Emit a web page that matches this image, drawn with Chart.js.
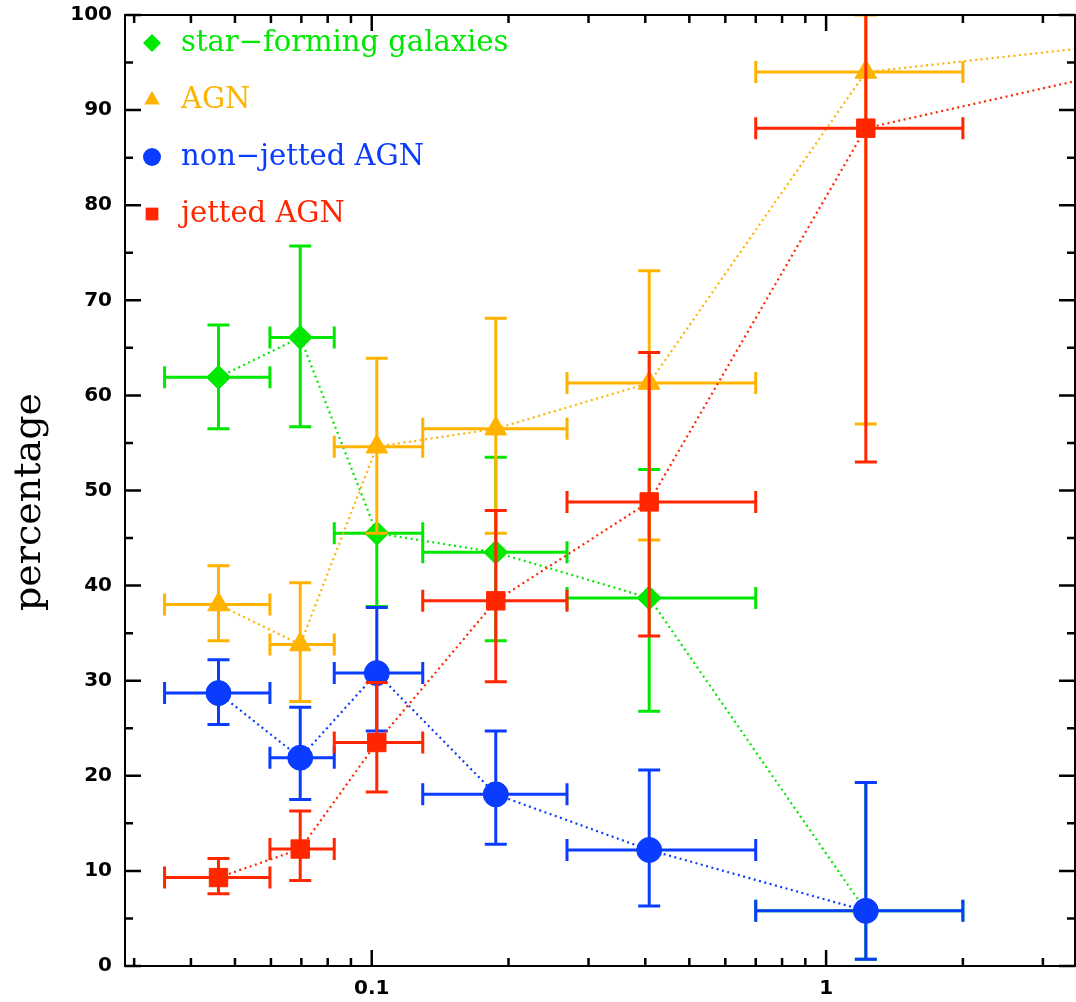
<!DOCTYPE html>
<html lang="en">
<head>
  <meta charset="UTF-8" />
  <title>percentage</title>
  <script src="https://cdn.jsdelivr.net/npm/chart.js"></script>
  <style>
    html, body { margin: 0; padding: 0; background: #fff; }
    .wrap { width: 1076px; height: 1002px; position: relative; }
  </style>
</head>
<body>
<div class="wrap"><canvas id="chart"></canvas></div>
<script>
  // bins along the x axis (log scale)
  const xCenters = [0.046, 0.0696, 0.1026, 0.1875, 0.408, 1.223];
  const xLow     = [0.035, 0.0597, 0.0827, 0.1295, 0.269, 0.70];
  const xHigh    = [0.0597, 0.0827, 0.1295, 0.269, 0.70, 2.0];
  const xNext    = 10;   // next bin, outside the visible range

  // star-forming galaxies
  const sfValues = [61.9, 66.1, 45.5, 43.5, 38.7, 5.8];
  const sfLow    = [56.5, 56.7, 37.8, 34.2, 26.8, 0.7];
  const sfHigh   = [67.4, 75.7, 45.5, 53.5, 52.2, 19.3];

  // AGN
  const agnValues = [38.0, 33.8, 54.6, 56.5, 61.3, 94.0];
  const agnLow    = [34.2, 27.8, 45.5, 45.5, 44.8, 57.0];
  const agnHigh   = [42.1, 40.3, 63.9, 68.1, 73.1, 100];
  const agnNext   = 98.8;

  // non-jetted AGN
  const njValues = [28.7, 21.9, 30.8, 18.05, 12.2, 5.8];
  const njLow    = [25.4, 17.5, 24.7, 12.8, 6.3, 0.7];
  const njHigh   = [32.2, 27.2, 37.7, 24.7, 20.6, 19.3];

  // jetted AGN
  const jetValues = [9.3, 12.3, 23.5, 38.4, 48.8, 88.1];
  const jetLow    = [7.6, 9.0, 18.3, 29.9, 34.7, 53.0];
  const jetHigh   = [11.3, 16.3, 29.8, 47.9, 64.5, 110];
  const jetNext   = 97.9;

  const xTickLabels = [0.1, 1];
  const xMinorTicks = [0.03, 0.04, 0.05, 0.06, 0.07, 0.08, 0.09, 0.2, 0.3, 0.4, 0.5, 0.6, 0.7, 0.8, 0.9, 2, 3];
  const yTickLabels = [0, 10, 20, 30, 40, 50, 60, 70, 80, 90, 100];
  const yMinorTicks = [5, 15, 25, 35, 45, 55, 65, 75, 85, 95];

  const GREEN = '#00e800', ORANGE = '#ffb300', BLUE = '#0a3cff', RED = '#ff2600';

  const pts = (vals, next) => {
    const out = vals.map((v, i) => ({ x: xCenters[i], y: v }));
    if (next !== undefined) out.push({ x: xNext, y: next });
    return out;
  };

  // error bars per dataset index
  const errorSets = [
    { lo: sfLow, hi: sfHigh, v: sfValues },
    { lo: agnLow, hi: agnHigh, v: agnValues },
    { lo: njLow, hi: njHigh, v: njValues },
    { lo: jetLow, hi: jetHigh, v: jetValues }
  ];

  const errorBars = {
    id: 'errorBars',
    beforeDatasetDraw(chart, args) {
      const e = errorSets[args.index];
      if (!e) return;
      const ctx = chart.ctx, a = chart.chartArea;
      const xs = chart.scales.x, ys = chart.scales.y;
      const cap = 11;
      ctx.save();
      ctx.beginPath();
      ctx.rect(a.left, a.top, a.right - a.left, a.bottom - a.top);
      ctx.clip();
      ctx.strokeStyle = chart.data.datasets[args.index].borderColor;
      ctx.lineWidth = 3;
      ctx.beginPath();
      for (let i = 0; i < e.v.length; i++) {
        const px = xs.getPixelForValue(xCenters[i]);
        const py = ys.getPixelForValue(e.v[i]);
        const x0 = xs.getPixelForValue(xLow[i]), x1 = xs.getPixelForValue(xHigh[i]);
        const y0 = ys.getPixelForValue(e.lo[i]), y1 = ys.getPixelForValue(e.hi[i]);
        ctx.moveTo(x0, py); ctx.lineTo(x1, py);
        ctx.moveTo(x0, py - cap); ctx.lineTo(x0, py + cap);
        ctx.moveTo(x1, py - cap); ctx.lineTo(x1, py + cap);
        ctx.moveTo(px, y0); ctx.lineTo(px, y1);
        ctx.moveTo(px - cap, y0); ctx.lineTo(px + cap, y0);
        ctx.moveTo(px - cap, y1); ctx.lineTo(px + cap, y1);
      }
      ctx.stroke();
      ctx.restore();
    }
  };

  const frame = {
    id: 'frame',
    afterDraw(chart) {
      const ctx = chart.ctx, a = chart.chartArea;
      const xs = chart.scales.x, ys = chart.scales.y;
      ctx.save();
      ctx.strokeStyle = '#000';
      ctx.lineWidth = 2.5;
      ctx.beginPath();
      const tickX = (v, len) => {
        const p = xs.getPixelForValue(v);
        ctx.moveTo(p, a.bottom); ctx.lineTo(p, a.bottom - len);
        ctx.moveTo(p, a.top); ctx.lineTo(p, a.top + len);
      };
      const tickY = (v, len) => {
        const p = ys.getPixelForValue(v);
        ctx.moveTo(a.left, p); ctx.lineTo(a.left + len, p);
        ctx.moveTo(a.right, p); ctx.lineTo(a.right - len, p);
      };
      xTickLabels.forEach(v => tickX(v, 16));
      xMinorTicks.forEach(v => tickX(v, 8));
      yTickLabels.forEach(v => tickY(v, 16));
      yMinorTicks.forEach(v => tickY(v, 8));
      ctx.stroke();
      ctx.lineWidth = 2;
      ctx.strokeRect(a.left, a.top, a.right - a.left, a.bottom - a.top);

      // y axis title
      ctx.fillStyle = '#000';
      ctx.font = '38px "DejaVu Serif"';
      ctx.translate(30, 502);
      ctx.rotate(-Math.PI / 2);
      ctx.textAlign = 'center';
      ctx.textBaseline = 'middle';
      ctx.fillText('percentage', 0, 0);
      ctx.restore();
    }
  };

  const legendItems = [
    { text: 'star\u2212forming galaxies', color: GREEN, shape: 'diamond' },
    { text: 'AGN', color: ORANGE, shape: 'triangle' },
    { text: 'non\u2212jetted AGN', color: BLUE, shape: 'circle' },
    { text: 'jetted AGN', color: RED, shape: 'square' }
  ];

  function marker(ctx, shape, x, y, r) {
    ctx.beginPath();
    if (shape === 'diamond') {
      ctx.moveTo(x, y - r); ctx.lineTo(x + r, y); ctx.lineTo(x, y + r); ctx.lineTo(x - r, y);
    } else if (shape === 'triangle') {
      ctx.moveTo(x, y - r); ctx.lineTo(x + r * 0.866, y + r * 0.5); ctx.lineTo(x - r * 0.866, y + r * 0.5);
    } else if (shape === 'circle') {
      ctx.arc(x, y, r, 0, Math.PI * 2);
    } else {
      const s = r * 0.707;
      ctx.rect(x - s, y - s, 2 * s, 2 * s);
    }
    ctx.closePath();
    ctx.fill();
  }

  const insideLegend = {
    id: 'insideLegend',
    afterDraw(chart) {
      const ctx = chart.ctx;
      ctx.save();
      ctx.font = '29px "DejaVu Serif"';
      ctx.textBaseline = 'middle';
      legendItems.forEach((it, i) => {
        const y = 43 + i * 57;
        ctx.fillStyle = it.color;
        marker(ctx, it.shape, 152, y, 9);
        ctx.fillText(it.text, 181, y);
      });
      ctx.restore();
    }
  };

  const lineStyle = (color, style, radius, order) => ({
    borderColor: color,
    backgroundColor: color,
    borderWidth: 2.2,
    borderDash: [2, 3.5],
    pointStyle: style,
    pointRadius: radius,
    pointHoverRadius: radius,
    pointBorderWidth: 1,
    clip: 0,
    order: order
  });

  const tickFont = { family: 'DejaVu Sans', size: 20, weight: 'bold' };

  // labels may hang outside the plot box, like in the original
  const noPad = s => { s.paddingTop = 0; s.paddingBottom = 0; s.paddingLeft = 0; s.paddingRight = 0; };

  new Chart(document.getElementById('chart'), {
    type: 'line',
    data: {
      datasets: [
        Object.assign({ label: 'star-forming galaxies', data: pts(sfValues) }, lineStyle(GREEN, 'rectRot', 12, 3)),
        Object.assign({ label: 'AGN', data: pts(agnValues, agnNext) }, lineStyle(ORANGE, 'triangle', 12.5, 2)),
        Object.assign({ label: 'non-jetted AGN', data: pts(njValues) }, lineStyle(BLUE, 'circle', 12.5, 1)),
        Object.assign({ label: 'jetted AGN', data: pts(jetValues, jetNext) }, lineStyle(RED, 'rect', 13, 0))
      ]
    },
    options: {
      responsive: true,
      maintainAspectRatio: false,
      animation: false,
      events: [],
      layout: { autoPadding: false, padding: { left: 0, top: 15, right: 1, bottom: 0 } },
      plugins: { legend: { display: false }, tooltip: { enabled: false } },
      scales: {
        x: {
          type: 'logarithmic',
          min: 0.02864,
          max: 3.53,
          grid: { display: false, drawTicks: false },
          border: { display: false },
          afterBuildTicks: s => { s.ticks = xTickLabels.map(v => ({ value: v })); },
          afterFit: s => { s.height = 36; noPad(s); },
          ticks: {
            autoSkip: false,
            maxRotation: 0,
            padding: 11,
            color: '#000',
            font: tickFont,
            callback: v => String(v)
          }
        },
        y: {
          min: 0,
          max: 100,
          grid: { display: false, drawTicks: false },
          border: { display: false },
          afterBuildTicks: s => { s.ticks = yTickLabels.map(v => ({ value: v })); },
          afterFit: s => { s.width = 125; noPad(s); },
          ticks: {
            padding: 13,
            color: '#000',
            font: tickFont
          }
        }
      }
    },
    plugins: [errorBars, frame, insideLegend]
  });
</script>
</body>
</html>
